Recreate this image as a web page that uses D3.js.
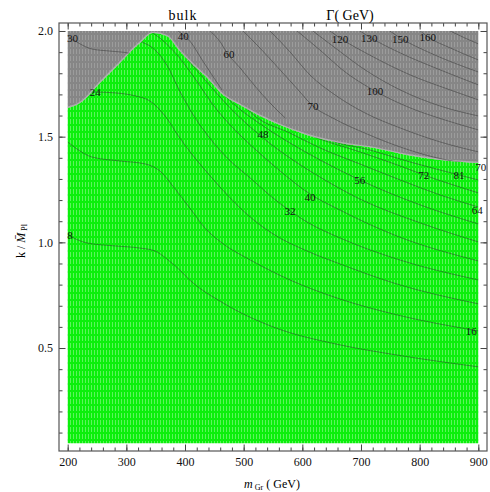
<!DOCTYPE html>
<html>
<head>
<meta charset="utf-8">
<script src="https://cdn.jsdelivr.net/npm/d3@7"></script>
<style>
  body { margin: 0; background: #fff; }
  text { font-family: "Liberation Serif", "DejaVu Serif", serif; }
</style>
</head>
<body>
<div id="chart"></div>
<script>
// axis ticks
var massTicks = [200, 300, 400, 500, 600, 700, 800, 900];
var kTicks = [0.5, 1.0, 1.5, 2.0];

// edge of the allowed (green) region, [m_Gr, k/Mpl]
var boundary = [[200,1.636],[221,1.659],[255,1.754],[289,1.849],[323,1.943],[345,1.991],[369,1.976],
  [391,1.905],[414,1.839],[438,1.778],[465,1.697],[494,1.650],[528,1.598],[562,1.555],[608,1.508],
  [664,1.470],[721,1.447],[778,1.413],[835,1.390],[900,1.376]];

// contours inside the green region
var curve8  = [[200,1.035],[233,0.997],[281,0.983],[323,0.973],[349,0.959],[371,0.917],[391,0.869],[408,0.822],[465,0.713],[550,0.600],[664,0.515],[761,0.467],[900,0.411]];
var curve16 = [[200,1.475],[221,1.432],[241,1.404],[289,1.385],[332,1.371],[357,1.338],[383,1.253],[408,1.163],[434,1.068],[463,0.997],[511,0.917],[579,0.822],[664,0.732],[761,0.657],[900,0.581]];
var curve24 = [[212,1.711],[247,1.711],[281,1.707],[315,1.693],[340,1.669],[366,1.598],[391,1.494],[417,1.399],[443,1.314],[477,1.210],[511,1.120],[550,1.040],[608,0.959],[664,0.898],[761,0.803],[900,0.709]];
var curve32 = [[306,1.986],[323,1.953],[345,1.920],[369,1.839],[391,1.716],[414,1.603],[438,1.508],[472,1.399],[511,1.305],[550,1.210],[579,1.149],[608,1.096],[664,1.021],[761,0.921],[900,0.822]];
var curve40 = [[340,2.0],[357,1.967],[391,1.872],[420,1.763],[448,1.650],[482,1.541],[523,1.432],[562,1.338],[613,1.229],[664,1.153],[761,1.030],[900,0.912]];
var curve48 = [[383,1.939],[397,1.891],[434,1.768],[477,1.636],[533,1.494],[579,1.399],[630,1.309],[698,1.205],[801,1.092],[900,1.002]];
var curve56 = [[417,1.853],[431,1.806],[477,1.669],[533,1.551],[579,1.470],[630,1.390],[698,1.295],[801,1.177],[900,1.087]];
var curve64 = [[494,1.665],[519,1.598],[579,1.517],[630,1.447],[698,1.371],[767,1.295],[835,1.224],[900,1.167]];
var curve72 = [[562,1.580],[579,1.555],[613,1.508],[698,1.428],[767,1.361],[807,1.319],[900,1.234]];
var curve81 = [[613,1.532],[647,1.484],[715,1.437],[784,1.380],[867,1.319],[900,1.295]];

// contours inside the grey (excluded) region
var gray30  = [[200,1.976],[221,1.939],[241,1.915],[272,1.905],[303,1.896],[323,1.882],[340,1.844]];
var gray40  = [[388,2.0],[397,1.981],[412,1.939],[426,1.877],[446,1.792],[463,1.721]];
var gray60  = [[443,2.0],[460,1.948],[473,1.891],[494,1.825],[519,1.740],[545,1.659],[571,1.588]];
var gray70  = [[499,2.0],[531,1.910],[562,1.816],[593,1.721],[618,1.645],[652,1.588],[710,1.513],[767,1.451],[823,1.404],[900,1.366]];
var gray80  = [[545,2.0],[579,1.901],[613,1.792],[656,1.697],[707,1.612],[767,1.541],[835,1.475],[900,1.428]];
var gray100 = [[591,2.0],[630,1.910],[673,1.806],[724,1.716],[784,1.636],[843,1.579],[900,1.532]];
var gray110 = [[618,2.0],[656,1.920],[707,1.816],[767,1.721],[835,1.645],[900,1.598]];
var gray120 = [[647,2.0],[664,1.967],[715,1.886],[784,1.792],[852,1.721],[900,1.674]];
var gray130 = [[698,2.0],[714,1.972],[767,1.896],[835,1.816],[900,1.745]];
var gray150 = [[749,2.0],[767,1.967],[818,1.896],[900,1.806]];
var gray160 = [[801,2.0],[814,1.972],[852,1.920],[900,1.863]];
var gray170 = [[852,2.0],[877,1.967],[900,1.939]];

// contour labels [text, m_Gr, k]
var contourLabels = [["30",208,1.967],["40",397,1.976],["60",475,1.891],["70",618,1.645],["100",724,1.716],
  ["120",664,1.962],["130",714,1.967],["150",767,1.962],["160",814,1.972],["70",904,1.357],
  ["24",247,1.711],["8",204,1.035],["48",533,1.513],["56",698,1.295],["72",807,1.319],["81",867,1.319],
  ["40",613,1.215],["32",579,1.149],["64",898,1.153],["16",888,0.581]];

var greenCurves = [curve8, curve16, curve24, curve32, curve40, curve48, curve56, curve64, curve72, curve81];
var grayCurves = [gray30, gray40, gray60, gray70, gray80, gray100, gray110, gray120, gray130, gray150, gray160, gray170];

var width = 490, height = 492;
var margin = { top: 23, right: 3, bottom: 41, left: 59 };

var svg = d3.select("#chart").append("svg")
  .attr("width", width)
  .attr("height", height);

var x = d3.scaleLinear().domain([185.2, 914.8]).range([margin.left, width - margin.right]);
var y = d3.scaleLinear().domain([0.0128, 2.0378]).range([height - margin.bottom, margin.top]);

var kMin = 0.05, kMax = 2.0;

// textures
var defs = svg.append("defs");
var gp = defs.append("pattern").attr("id", "greenTex")
  .attr("patternUnits", "userSpaceOnUse").attr("width", 3).attr("height", 7);
gp.append("rect").attr("width", 3).attr("height", 7).attr("fill", "#0cef0c");
gp.append("rect").attr("x", 1).attr("width", 1).attr("height", 5).attr("fill", "#5cf55c");
var pp = defs.append("pattern").attr("id", "grayTex")
  .attr("patternUnits", "userSpaceOnUse").attr("width", 3).attr("height", 7);
pp.append("rect").attr("width", 3).attr("height", 7).attr("fill", "#868686");
pp.append("rect").attr("x", 1).attr("width", 1).attr("height", 5).attr("fill", "#9c9c9c");

var edge = d3.curveMonotoneX;
var greenArea = d3.area().x(function (d) { return x(d[0]); })
  .y0(y(kMin)).y1(function (d) { return y(d[1]); }).curve(edge);
var grayArea = d3.area().x(function (d) { return x(d[0]); })
  .y0(y(kMax)).y1(function (d) { return y(d[1]); }).curve(edge);

defs.append("clipPath").attr("id", "clipGreen").append("path").attr("d", greenArea(boundary));
defs.append("clipPath").attr("id", "clipGray").append("path").attr("d", grayArea(boundary));

svg.append("path").attr("d", grayArea(boundary)).attr("fill", "url(#grayTex)");
svg.append("path").attr("d", greenArea(boundary)).attr("fill", "url(#greenTex)");

var line = d3.line().x(function (d) { return x(d[0]); })
  .y(function (d) { return y(d[1]); }).curve(d3.curveMonotoneX);

// light fringe along the edge
svg.append("path").attr("d", line(boundary))
  .attr("fill", "none").attr("stroke", "#aeaeae").attr("stroke-width", 2.5)
  .attr("clip-path", "url(#clipGray)");

svg.append("g").attr("clip-path", "url(#clipGreen)")
  .selectAll("path").data(greenCurves).enter().append("path")
  .attr("d", line)
  .attr("fill", "none").attr("stroke", "#333").attr("stroke-opacity", 0.55).attr("stroke-width", 0.9);

svg.append("g").attr("clip-path", "url(#clipGray)")
  .selectAll("path").data(grayCurves).enter().append("path")
  .attr("d", line)
  .attr("fill", "none").attr("stroke", "#333").attr("stroke-opacity", 0.55).attr("stroke-width", 0.9);

svg.append("g").selectAll("text").data(contourLabels).enter().append("text")
  .attr("x", function (d) { return x(d[1]); })
  .attr("y", function (d) { return y(d[2]); })
  .attr("dy", "0.35em")
  .attr("text-anchor", "middle")
  .style("font-size", "11px")
  .style("fill", "#111")
  .text(function (d) { return d[0]; });

// frame with inward ticks on all four sides
var minorM = d3.range(200, 901, 20);
var minorK = d3.range(1, 21).map(function (i) { return i / 10; });
var bottomY = height - margin.bottom, rightX = width - margin.right;

function styleAxis(g) {
  g.select(".domain").remove();
  g.selectAll("line").attr("stroke", "#444");
  g.selectAll("text").style("font-family", "'Liberation Serif', serif").style("font-size", "12px").style("fill", "#111");
}

svg.append("g").attr("transform", "translate(0," + bottomY + ")")
  .call(d3.axisBottom(x).tickValues(minorM).tickSize(-3.5).tickFormat("")).call(styleAxis);
svg.append("g").attr("transform", "translate(0," + bottomY + ")")
  .call(d3.axisBottom(x).tickValues(massTicks).tickSize(-6.5).tickPadding(6).tickFormat(d3.format("d"))).call(styleAxis);
svg.append("g").attr("transform", "translate(0," + margin.top + ")")
  .call(d3.axisTop(x).tickValues(minorM).tickSize(-3.5).tickFormat("")).call(styleAxis);
svg.append("g").attr("transform", "translate(0," + margin.top + ")")
  .call(d3.axisTop(x).tickValues(massTicks).tickSize(-6.5).tickFormat("")).call(styleAxis);

svg.append("g").attr("transform", "translate(" + margin.left + ",0)")
  .call(d3.axisLeft(y).tickValues(minorK).tickSize(-3.5).tickFormat("")).call(styleAxis);
svg.append("g").attr("transform", "translate(" + margin.left + ",0)")
  .call(d3.axisLeft(y).tickValues(kTicks).tickSize(-6.5).tickPadding(6).tickFormat(d3.format(".1f"))).call(styleAxis);
svg.append("g").attr("transform", "translate(" + rightX + ",0)")
  .call(d3.axisRight(y).tickValues(minorK).tickSize(-3.5).tickFormat("")).call(styleAxis);
svg.append("g").attr("transform", "translate(" + rightX + ",0)")
  .call(d3.axisRight(y).tickValues(kTicks).tickSize(-6.5).tickFormat("")).call(styleAxis);

svg.append("rect")
  .attr("x", margin.left).attr("y", margin.top)
  .attr("width", rightX - margin.left).attr("height", bottomY - margin.top)
  .attr("fill", "none").attr("stroke", "#555").attr("stroke-width", 1.2);

// titles
svg.append("text").attr("x", 183).attr("y", 20).attr("text-anchor", "middle")
  .style("font-size", "14px").style("letter-spacing", "1px").text("bulk");
svg.append("text").attr("x", 350).attr("y", 20).attr("text-anchor", "middle")
  .style("font-size", "14px").text("\u0393( GeV)");

// axis titles
var xt = svg.append("text").attr("x", 272).attr("y", 488).attr("text-anchor", "middle").style("font-size", "12px");
xt.append("tspan").style("font-style", "italic").text("m");
xt.append("tspan").attr("dy", 2).style("font-size", "8px").text(" Gr");
xt.append("tspan").attr("dy", -2).text(" ( GeV)");

var yt = svg.append("text").attr("transform", "translate(25,241) rotate(-90)")
  .attr("text-anchor", "middle").style("font-size", "12px");
yt.append("tspan").text("k / ");
yt.append("tspan").style("font-style", "italic").text("M\u0304");
yt.append("tspan").attr("dy", 2).style("font-size", "8px").text(" Pl");
</script>
</body>
</html>
